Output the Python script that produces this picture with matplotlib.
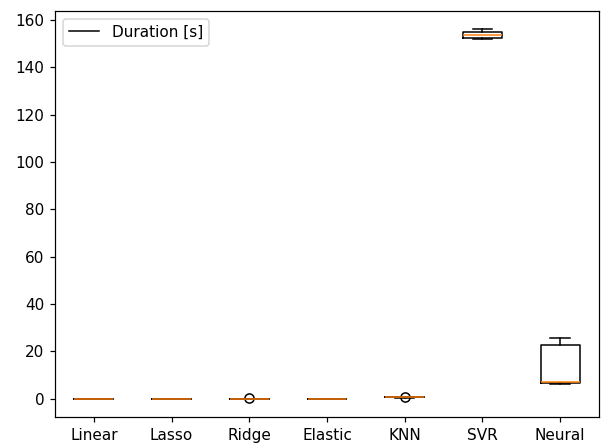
import matplotlib
matplotlib.use("Agg")
import matplotlib.pyplot as plt
from matplotlib.lines import Line2D

models = ["Linear", "Lasso", "Ridge", "Elastic", "KNN", "SVR", "Neural"]
linear = [0.01, 0.012, 0.013, 0.014, 0.016]
lasso = [0.01, 0.011, 0.012, 0.013, 0.015]
ridge = [0.008, 0.009, 0.010, 0.011, 0.25]
elastic = [0.01, 0.011, 0.012, 0.013, 0.014]
knn = [0.40, 0.45, 0.48, 0.52, 0.85]
svr = [152.0, 152.4, 153.6, 154.8, 156.0]
neural = [6.2, 6.5, 6.8, 22.6, 25.4]
legend_label = "Duration [s]"

dpi = 110
fig = plt.figure(figsize=(602/dpi, 446/dpi), dpi=dpi)
ax = fig.add_axes([55/602, 29/446, 544/602, 406/446])
ax.boxplot([linear, lasso, ridge, elastic, knn, svr, neural], tick_labels=models)
ax.legend(handles=[Line2D([], [], color="black", lw=1)], labels=[legend_label], loc="upper left")
fig.savefig("out.png", dpi=dpi)
